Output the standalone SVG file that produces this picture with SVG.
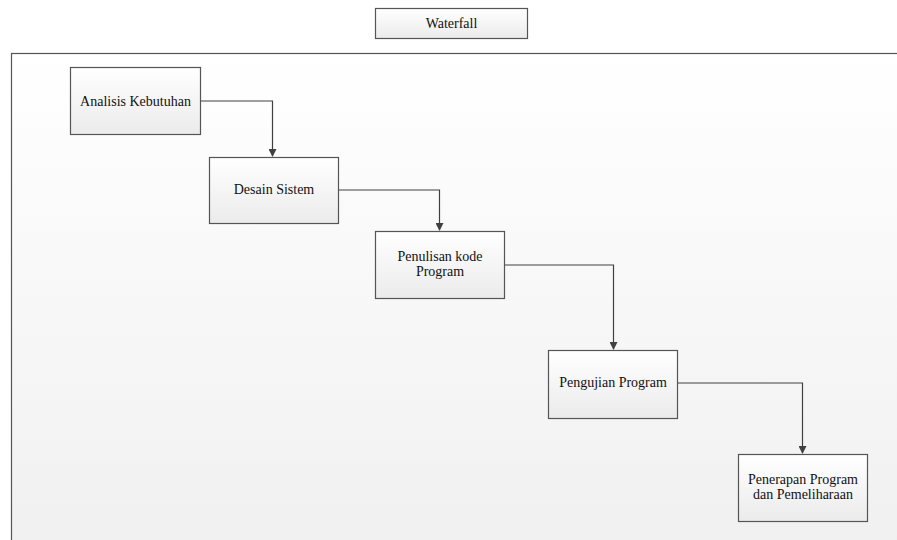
<svg xmlns="http://www.w3.org/2000/svg" width="897" height="540" viewBox="0 0 897 540">
<defs>
<linearGradient id="bg" x1="0" y1="0" x2="0" y2="1">
<stop offset="0" stop-color="#ffffff"/>
<stop offset="1" stop-color="#f0f0f0"/>
</linearGradient>
<linearGradient id="box" x1="0" y1="0" x2="0" y2="1">
<stop offset="0" stop-color="#ffffff"/>
<stop offset="1" stop-color="#ebebeb"/>
</linearGradient>
<marker id="arr" markerWidth="8" markerHeight="8" refX="7" refY="4" orient="auto" markerUnits="userSpaceOnUse">
<path d="M0,0 L8,4 L0,8 Z" fill="#404040"/>
</marker>
</defs>
<style>
.node rect{fill:url(#box);stroke:#555555;stroke-width:1.2}
text{font-family:"Liberation Serif","DejaVu Serif",serif;font-size:14px;fill:#111;text-anchor:middle}
.conn path{fill:none;stroke:#404040;stroke-width:1.2;marker-end:url(#arr)}
</style>
<rect x="0" y="0" width="897" height="540" fill="#ffffff"/>
<rect id="frame" x="11.5" y="53.5" width="900" height="500" fill="url(#bg)" stroke="#555555" stroke-width="1.2"/>
<g id="title" class="node">
<rect x="375.5" y="8.5" width="152" height="30"/>
<text x="451.5" y="28">Waterfall</text>
</g>
<g id="connectors" class="conn">
<path d="M200,101 H272.5 V156"/>
<path d="M338,190 H439.5 V230"/>
<path d="M504,265 H613.5 V349"/>
<path d="M677,383 H802.5 V453"/>
</g>
<g id="n1" class="node">
<rect x="70.5" y="67.5" width="130" height="67"/>
<text x="135.5" y="106">Analisis Kebutuhan</text>
</g>
<g id="n2" class="node">
<rect x="209.5" y="157.5" width="129" height="66"/>
<text x="274" y="194">Desain Sistem</text>
</g>
<g id="n3" class="node">
<rect x="375.5" y="231.5" width="129" height="67"/>
<text x="440" y="261">Penulisan kode</text>
<text x="440" y="276">Program</text>
</g>
<g id="n4" class="node">
<rect x="548.5" y="350.5" width="129" height="68"/>
<text x="613" y="387">Pengujian Program</text>
</g>
<g id="n5" class="node">
<rect x="738.5" y="454.5" width="129" height="67"/>
<text x="803" y="484">Penerapan Program</text>
<text x="803" y="499">dan Pemeliharaan</text>
</g>
</svg>
